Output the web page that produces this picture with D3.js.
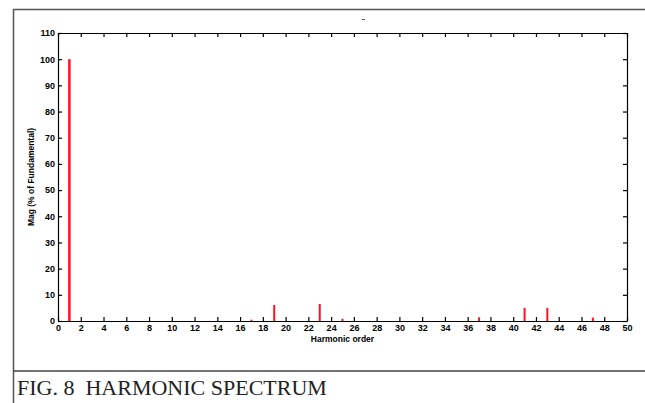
<!DOCTYPE html>
<html>
<head>
<meta charset="utf-8">
<script src="https://cdn.jsdelivr.net/npm/d3@7"></script>
<style>
   body { margin: 0; background: #fff; }
   .tick-lbl { font-family: "Liberation Sans", Arial, sans-serif; font-weight: bold; font-size: 9px; fill: #000; }
   .axis-title { font-family: "Liberation Sans", Arial, sans-serif; font-weight: bold; font-size: 8.5px; fill: #000; }
   .caption { font-family: "Liberation Serif", "Times New Roman", serif; font-size: 22px; fill: #222; }
</style>
</head>
<body>
<div id="chart"></div>
<script>
const width = 645;
const height = 403;

// harmonic spectrum values
const harmonics = [1, 17, 19, 23, 25, 37, 41, 43, 47];
const magnitudes = [100, 0.5, 6.1, 6.5, 0.8, 1.4, 5, 5, 1.3];
const xTicks = d3.range(0, 51, 2);
const yTicks = d3.range(0, 111, 10);

const margin = { top: 33, right: 18, bottom: 82, left: 58 };

const svg = d3.select("#chart").append("svg")
   .attr("width", width)
   .attr("height", height);

// outer figure frame
svg.append("line")
   .attr("x1", 13).attr("x2", width).attr("y1", 9.5).attr("y2", 9.5)
   .style("stroke", "#555").style("stroke-width", 1.5);
svg.append("line")
   .attr("x1", 13.5).attr("x2", 13.5).attr("y1", 9).attr("y2", height)
   .style("stroke", "#555").style("stroke-width", 1.5);
svg.append("line")
   .attr("x1", 13).attr("x2", width).attr("y1", 371).attr("y2", 371)
   .style("stroke", "#444").style("stroke-width", 1.5);

// little stray mark above the plot
svg.append("line")
   .attr("x1", 362).attr("x2", 365).attr("y1", 19.5).attr("y2", 19.5)
   .style("stroke", "#555").style("stroke-width", 1);

const x = d3.scaleLinear()
   .domain([0, 50])
   .range([margin.left, width - margin.right]);

const y = d3.scaleLinear()
   .domain([0, 110])
   .range([height - margin.bottom, margin.top]);

const plot = svg.append("g");

// axes: inward ticks on all four sides
plot.append("g")
   .attr("transform", `translate(0,${y(0)})`)
   .call(d3.axisBottom(x).tickValues(xTicks).tickSizeInner(-4).tickSizeOuter(0).tickPadding(4))
   .call(g => g.selectAll("text").attr("class", "tick-lbl").attr("fill", null));
plot.append("g")
   .attr("transform", `translate(0,${y(110)})`)
   .call(d3.axisTop(x).tickValues(xTicks).tickSizeInner(-4).tickSizeOuter(0).tickFormat(""));
plot.append("g")
   .attr("transform", `translate(${x(0)},0)`)
   .call(d3.axisLeft(y).tickValues(yTicks).tickSizeInner(-4).tickSizeOuter(0).tickPadding(3))
   .call(g => g.selectAll("text").attr("class", "tick-lbl").attr("fill", null));
plot.append("g")
   .attr("transform", `translate(${x(50)},0)`)
   .call(d3.axisRight(y).tickValues(yTicks).tickSizeInner(-4).tickSizeOuter(0).tickFormat(""));

plot.selectAll(".domain").style("stroke", "#000").style("stroke-width", 1.2);
plot.selectAll(".tick line").style("stroke", "#000").style("stroke-width", 1.2);

// spectrum lines
plot.selectAll("line.bar")
   .data(harmonics)
   .enter()
   .append("line")
   .attr("class", "bar")
   .attr("x1", d => x(d))
   .attr("x2", d => x(d))
   .attr("y1", y(0))
   .attr("y2", (d, i) => y(magnitudes[i]))
   .style("stroke", "#ff1020")
   .style("stroke-width", (d, i) => i == 0 ? 2.5 : 2);

// axis titles
svg.append("text")
   .attr("class", "axis-title")
   .attr("x", (x(0) + x(50)) / 2)
   .attr("y", 342)
   .style("text-anchor", "middle")
   .text("Harmonic order");
svg.append("text")
   .attr("class", "axis-title")
   .attr("transform", `translate(34,${(y(0) + y(110)) / 2}) rotate(-90)`)
   .style("text-anchor", "middle")
   .text("Mag (% of Fundamental)");

// caption
svg.append("text")
   .attr("class", "caption")
   .attr("x", 17)
   .attr("y", 395)
   .attr("xml:space", "preserve")
   .style("white-space", "pre")
   .text("FIG. 8  HARMONIC SPECTRUM");
</script>
</body>
</html>
